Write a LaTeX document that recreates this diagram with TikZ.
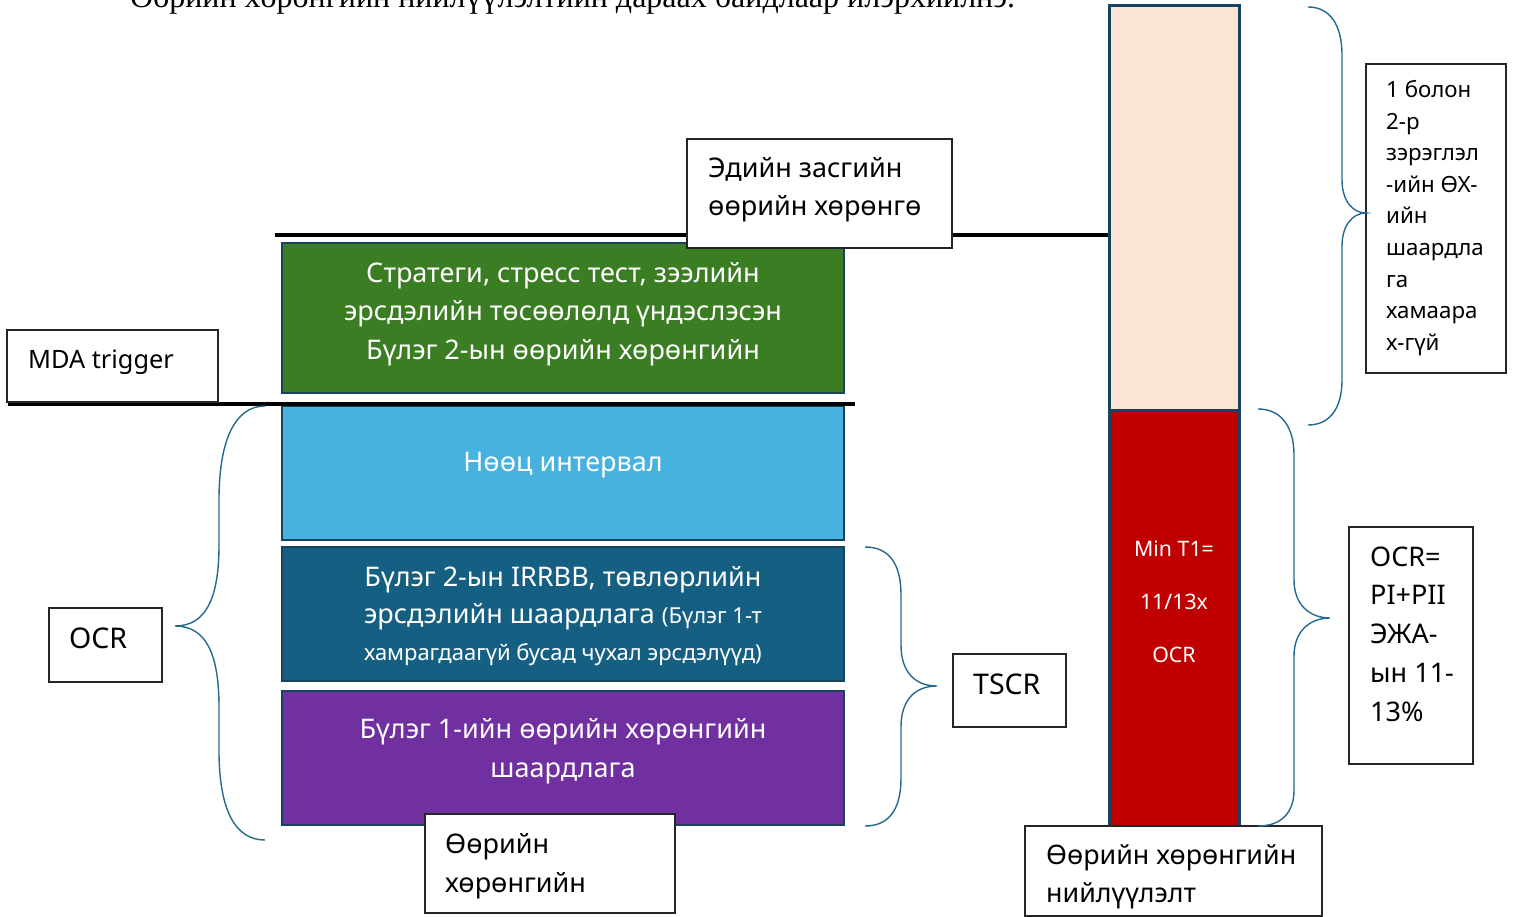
\documentclass[tikz,border=0pt]{standalone}
\usepackage{fontspec}
\setmainfont{Noto Sans}
\newfontfamily\serifcyr{Liberation Serif}
\usetikzlibrary{fit}
\definecolor{cgreen}{HTML}{3B7D23}
\definecolor{clblue}{HTML}{47B1E0}
\definecolor{cteal}{HTML}{156082}
\definecolor{cpurple}{HTML}{7030A0}
\definecolor{cred}{HTML}{C00000}
\definecolor{cpeach}{HTML}{FBE3D6}
\definecolor{cedge}{HTML}{17435F}
\definecolor{cbrace}{HTML}{25698F}
\newcommand{\fsz}[2]{\fontsize{#1}{#2}\selectfont}
\tikzset{
  layer/.style={draw=cedge, line width=2.2pt, inner sep=0pt, outer sep=0pt},
  label box/.style={draw=black!85, line width=1.4pt, fill=white, inner sep=0pt, outer sep=0pt},
  wtext/.style={text=white, align=center, inner sep=0pt},
  btext/.style={text=black, align=left, inner sep=0pt, anchor=west},
  thickline/.style={line width=4.5pt, black},
  bracepath/.style={draw=cbrace, line width=1.4pt},
}
\begin{document}
\begin{tikzpicture}[x=1pt,y=-1pt]
\useasboundingbox (0,0) rectangle (1514,917);

% cut-off heading
\node[anchor=base west, inner sep=0pt, font=\serifcyr\fsz{32}{36}] (heading) at (130,8)
  {Өөрийн хөрөнгийн нийлүүлэлтийн дараах байдлаар илэрхийлнэ.};

% top black line
\coordinate (t1) at (275,235);
\coordinate (t2) at (1108,235);
\draw[thickline] (t1) -- (t2);

% left stack
\node[layer, fill=cgreen, fit={(282,243) (844,393)}] (green) {};
\node[layer, fill=clblue, fit={(282,406) (844,540)}] (lblue) {};
\node[layer, fill=cteal, fit={(282,547) (844,681)}] (teal) {};
\node[layer, fill=cpurple, fit={(282,691) (844,825)}] (purple) {};

\node[wtext, font=\fsz{27}{38.5}] (greentxt) at (563,314)
  {Стратеги, стресс тест, зээлийн\\эрсдэлийн төсөөлөлд үндэслэсэн\\Бүлэг 2-ын өөрийн хөрөнгийн};
\node[wtext, font=\fsz{27}{38}] (lbluetxt) at (563,465) {Нөөц интервал};
\node[wtext, font=\fsz{27}{37}] (tealtxt) at (563,616)
  {Бүлэг 2-ын IRRBB, төвлөрлийн\\эрсдэлийн шаардлага {\fsz{22}{23}(Бүлэг 1-т}\\{\fsz{22}{23}хамрагдаагүй бусад чухал эрсдэлүүд)}};
\node[wtext, font=\fsz{27}{39}] (purpletxt) at (563,751)
  {Бүлэг 1-ийн өөрийн хөрөнгийн\\шаардлага};

% MDA line
\coordinate (m1) at (8,404);
\coordinate (m2) at (855,404);
\draw[thickline] (m1) -- (m2);

% right bar
\node[layer, line width=3pt, fill=cpeach, fit={(1109,6) (1239,410)}] (peach) {};
\node[layer, line width=3pt, fill=cred, fit={(1109,410) (1239,826)}] (redbar) {};
\node[wtext, font=\fsz{21.3}{53}] (redtxt) at (1174,602) {Min T1=\\11/13x\\OCR};

% label boxes
\node[label box, fit={(687,139) (952,248)}] (econ) {};
\node[btext, font=\fsz{27}{38}] (econtxt) at (708,190) {Эдийн засгийн\\өөрийн хөрөнгө};

\node[label box, fit={(7,330) (218,402)}] (mda) {};
\node[btext, font=\fsz{25.3}{38}] (mdatxt) at (28,362) {MDA trigger};

\node[label box, fit={(49,608) (162,682)}] (ocr) {};
\node[btext, font=\fsz{28.5}{38}] (ocrtxt) at (69,638) {OCR};

\node[label box, fit={(953,654) (1066,727)}] (tscr) {};
\node[btext, font=\fsz{28.5}{38}] (tscrtxt) at (973,684) {TSCR};

\node[label box, fit={(425,814) (675,913)}] (own) {};
\node[btext, font=\fsz{27}{39}] (owntxt) at (445,866) {Өөрийн\\хөрөнгийн};

\node[label box, fit={(1025,826) (1322,916)}] (supply) {};
\node[btext, font=\fsz{26.8}{38}] (supplytxt) at (1046,877) {Өөрийн хөрөнгийн\\нийлүүлэлт};

\node[label box, fit={(1366,64) (1506,373)}] (tier) {};
\node[btext, font=\fsz{22.3}{31.6}] (tiertxt) at (1386,218)
  {1 болон\\2-р\\зэрэглэл\\-ийн ӨХ-\\ийн\\шаардла\\га\\хамаара\\х-гүй};

\node[label box, fit={(1349,527) (1473,764)}] (ocrdef) {};
\node[btext, font=\fsz{27}{38.8}] (ocrdeftxt) at (1370,634)
  {OCR=\\PI+PII\\ЭЖА-\\ын 11-\\13\%};

% braces
\draw[bracepath] (265,406) .. controls (235,406) and (219,440) .. (219,500)
  -- (219,545) .. controls (219,600) and (205,626) .. (175,626)
  .. controls (205,626) and (219,652) .. (219,707)
  -- (219,750) .. controls (219,810) and (235,840) .. (265,840);

\draw[bracepath] (865,547) .. controls (890,547) and (901,565) .. (901,595)
  -- (901,645) .. controls (901,672) and (915,686) .. (937,686)
  .. controls (915,686) and (901,700) .. (901,727)
  -- (901,778) .. controls (901,808) and (890,826) .. (865,826);

\draw[bracepath] (1308,7) .. controls (1330,7) and (1342,25) .. (1342,55)
  -- (1342,180) .. controls (1342,200) and (1352,213) .. (1366,213)
  .. controls (1352,213) and (1342,226) .. (1342,246)
  -- (1342,380) .. controls (1342,408) and (1330,425) .. (1308,425);

\draw[bracepath] (1258,409) .. controls (1282,409) and (1294,428) .. (1294,455)
  -- (1294,580) .. controls (1294,605) and (1310,618) .. (1330,618)
  .. controls (1310,618) and (1294,631) .. (1294,656)
  -- (1294,790) .. controls (1294,812) and (1282,826) .. (1258,826);
\end{tikzpicture}
\end{document}
